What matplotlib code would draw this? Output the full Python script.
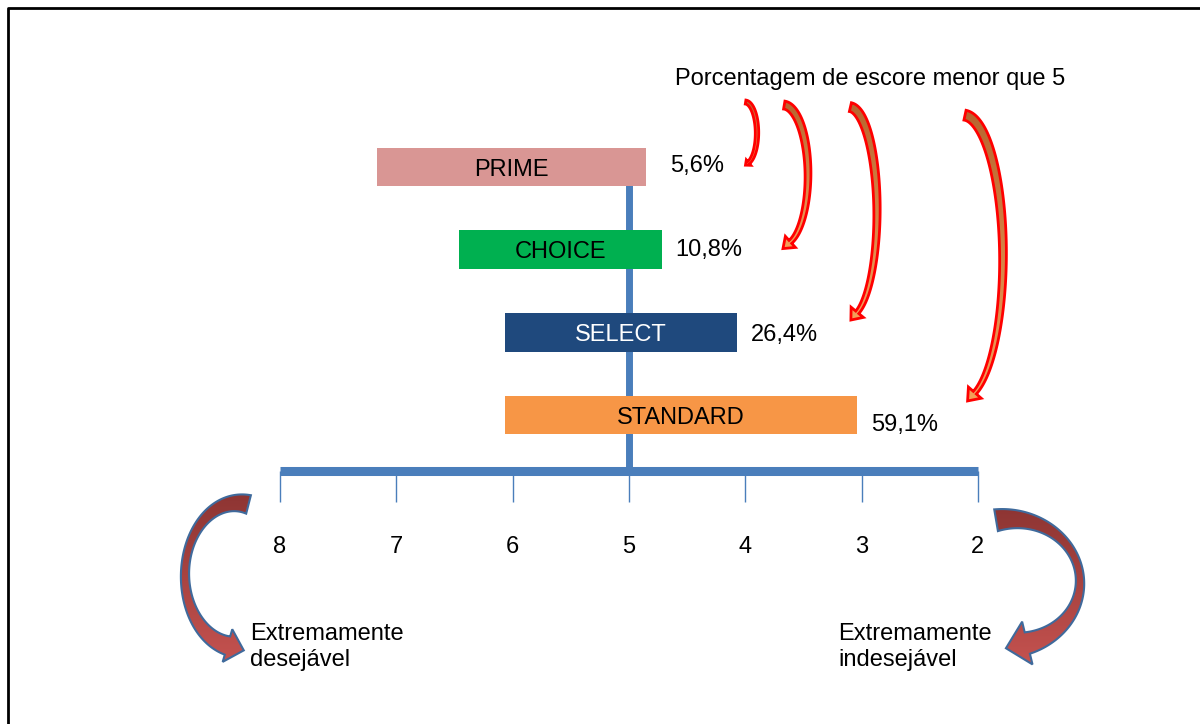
import numpy as np
import matplotlib
matplotlib.use("Agg")
import matplotlib.pyplot as plt
from matplotlib.patches import Polygon
from matplotlib.colors import LinearSegmentedColormap

plt.rcParams['font.family'] = ['Liberation Sans', 'DejaVu Sans']

# data
grades = ['STANDARD', 'SELECT', 'CHOICE', 'PRIME']
bar_left = [6.07, 6.07, 6.46, 7.17]      # score where each bar starts (left side, higher score)
bar_right = [3.04, 4.07, 4.72, 4.85]     # score where each bar ends
pct_labels = ['59,1%', '26,4%', '10,8%', '5,6%']
bar_colors = ['#f79646', '#1f497d', '#00b050', '#d99694']
name_colors = ['black', 'white', 'black', 'black']
scores = [8, 7, 6, 5, 4, 3, 2]

blue = '#4a7ebb'
axis_y = -0.677
tick_end = -1.052
label_y = -1.595
pct_offsets = [(10, -7), (10, -2), (10, 0), (17, 1)]   # label placement in points

fig = plt.figure(figsize=(12, 7.24), dpi=100)
ax = fig.add_axes([0, 0, 1, 1])
ax.set_xlim(10.408, 0.0903)
ax.set_ylim(-3.738, 5.020)
ax.axis('off')

rows = np.arange(len(grades))
left = np.array(bar_left)
right = np.array(bar_right)

# stem and score axis
ax.vlines(5, axis_y, rows[-1], color=blue, lw=5, zorder=1, capstyle='butt')
ax.hlines(axis_y, max(scores), min(scores), color=blue, lw=6.5, zorder=1, capstyle='butt')
ax.vlines(scores, axis_y, tick_end, color=blue, lw=1, zorder=1)
for s in scores:
    ax.text(s, label_y, str(s), ha='center', va='center', fontsize=17)

ax.barh(rows, right - left, left=left, height=0.47, color=bar_colors, zorder=2)
for i in rows:
    ax.annotate(grades[i], ((left[i] + right[i]) / 2, i), xytext=(0, -2), textcoords='offset points',
                ha='center', va='center', fontsize=17, color=name_colors[i], zorder=3)
    ax.annotate(pct_labels[i], (right[i], i), xytext=pct_offsets[i], textcoords='offset points',
                ha='left', va='center', fontsize=17)

# decoration layer in pixel units (y downward)
deco = fig.add_axes([0, 0, 1, 1])
deco.patch.set_alpha(0)
deco.set_xlim(0, 1200)
deco.set_ylim(724, 0)
deco.axis('off')

deco.plot([8, 8, 1200], [724, 8, 8], color='black', lw=2)
deco.text(675, 79, 'Porcentagem de escore menor que 5', ha='left', va='center', fontsize=17)
deco.text(250, 647, 'Extremamente\ndesejável', ha='left', va='center', fontsize=17, linespacing=1.2)
deco.text(838, 647, 'Extremamente\nindesejável', ha='left', va='center', fontsize=17, linespacing=1.2)


def arrow_poly(pts, w, head_len, head_w):
    d = np.gradient(pts, axis=0)
    d /= np.linalg.norm(d, axis=1)[:, None]
    n = np.column_stack([-d[:, 1], d[:, 0]])
    lft = pts + n * w[:, None] / 2
    rgt = pts - n * w[:, None] / 2
    tip = pts[-1] + d[-1] * head_len
    hl = pts[-1] + n[-1] * head_w / 2
    hr = pts[-1] - n[-1] * head_w / 2
    return np.vstack([lft, hl, tip, hr, rgt[::-1]])


def grad_arrow(poly, c1, c2, ec, lw):
    patch = Polygon(poly, closed=True, fc='none', ec=ec, lw=lw, zorder=4)
    deco.add_patch(patch)
    x0, x1 = poly[:, 0].min(), poly[:, 0].max()
    y0, y1 = poly[:, 1].min(), poly[:, 1].max()
    cmap = LinearSegmentedColormap.from_list('g', [c1, c2])
    im = deco.imshow(np.linspace(0, 1, 100).reshape(-1, 1), cmap=cmap,
                     extent=(x0, x1, y1, y0), origin='upper', aspect='auto', zorder=3)
    im.set_clip_path(patch)


def half_ellipse(cx, cy, rx, ry, th0, th1, side=1):
    th = np.linspace(th0, th1, 120)
    return np.column_stack([cx + side * rx * np.sin(th), cy - ry * np.cos(th)])


# red curved arrows: centre, radii, tail width, end width, head width, head length
red_arcs = [(745, 133, 12, 31, 4, 3, 7, 4),
            (783, 175, 25, 70, 8, 4, 15, 10),
            (849, 212, 28, 105, 9, 4, 16, 10),
            (963, 257, 40, 142, 10, 4, 17, 11)]
for cx, cy, rx, ry, w0, w1, hw, hl in red_arcs:
    pts = half_ellipse(cx, cy, rx, ry, 0.05, np.pi - 0.3)
    w = np.linspace(w0, w1, len(pts))
    grad_arrow(arrow_poly(pts, w, hl, hw), '#b8652f', '#f4a05a', '#ff0000', 2)

# big curved arrows at the ends of the scale
pts = half_ellipse(238, 575, 53, 72, -0.2, np.pi - 0.2, side=-1)
w = 19 - 11 * np.sin(np.linspace(0, np.pi, len(pts)))
grad_arrow(arrow_poly(pts, w, 17, 34), '#8e3533', '#c4524f', '#3f6a9c', 1.5)

pts = half_ellipse(1010, 582, 70, 63, -0.2, np.pi - 0.25)
w = 22 - 14 * np.sin(np.linspace(0, np.pi, len(pts)))
grad_arrow(arrow_poly(pts, w, 22, 44), '#8e3533', '#c4524f', '#3f6a9c', 1.5)

deco.set_xlim(0, 1200)
deco.set_ylim(724, 0)

fig.savefig('out.png', dpi=100)
